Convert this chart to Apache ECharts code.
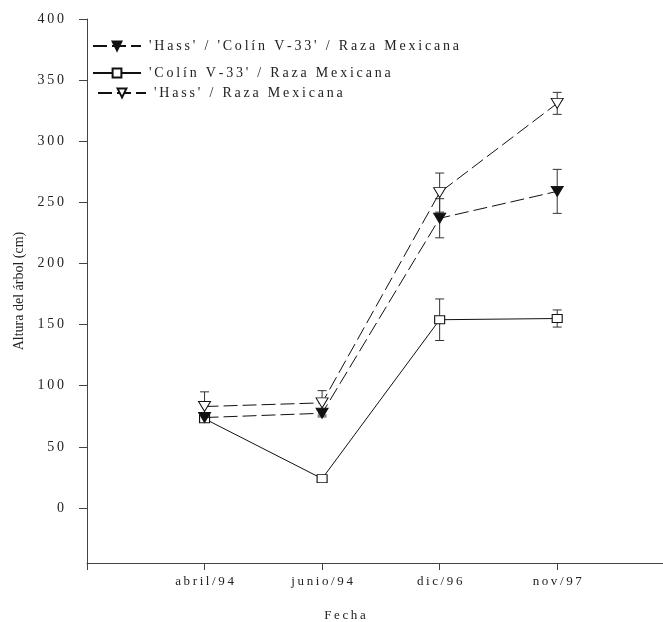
<!DOCTYPE html>
<html>
<head>
<meta charset="utf-8">
<script src="https://cdn.jsdelivr.net/npm/echarts@6/dist/echarts.min.js"></script>
<style>
  html, body { margin: 0; padding: 0; background: #fff; }
  #chart { width: 663px; height: 622px; }
</style>
</head>
<body>
<div id="chart"></div>
<script>
// datos
var fechas = ['abril/94', 'junio/94', 'dic/96', 'nov/97'];
var yTicks = [0, 50, 100, 150, 200, 250, 300, 350, 400];

var nombreHCR = "'Hass' / 'Colín V-33' / Raza Mexicana";
var nombreCR = "'Colín V-33' / Raza Mexicana";
var nombreHR = "'Hass' / Raza Mexicana";

var alturaHCR = [74, 77.5, 237, 259];
var errorHCR = [2, 3, 16, 18];
var alturaCR = [73, 24, 154, 155];
var errorCR = [2, 2, 17, 7];
var alturaHR = [83, 86, 258, 331];
var errorHR = [12, 10, 16, 9];

function sp(s) { return String(s).split('').join('\u2009'); }

function puntos(vals) {
    var out = [];
    for (var i = 0; i < vals.length; i++) out.push([i + 1, vals[i]]);
    return out;
}
function barras(vals, errs) {
    var out = [];
    for (var i = 0; i < vals.length; i++) out.push([i + 1, vals[i] - errs[i], vals[i] + errs[i]]);
    return out;
}

function renderError(params, api) {
    var x = api.value(0);
    var lo = api.coord([x, api.value(1)]);
    var hi = api.coord([x, api.value(2)]);
    var w = 4.5;
    var st = { stroke: '#333', lineWidth: 1 };
    return {
        type: 'group',
        children: [
            { type: 'line', shape: { x1: lo[0], y1: lo[1], x2: hi[0], y2: hi[1] }, style: st },
            { type: 'line', shape: { x1: hi[0] - w, y1: hi[1], x2: hi[0] + w, y2: hi[1] }, style: st },
            { type: 'line', shape: { x1: lo[0] - w, y1: lo[1], x2: lo[0] + w, y2: lo[1] }, style: st }
        ]
    };
}

var serif = 'Liberation Serif';
var chart = echarts.init(document.getElementById('chart'));

function leyenda(nombre, left, top) {
    return {
        data: [nombre],
        left: left,
        top: top,
        itemWidth: 48,
        itemHeight: 11,
        selectedMode: false,
        formatter: function (n) { return sp(n); },
        textStyle: { fontFamily: serif, fontSize: 14, color: '#222', padding: [0, 0, 0, 3] }
    };
}

var dash = [14, 5];

var option = {
    backgroundColor: '#fff',
    animation: false,
    legend: [
        leyenda(nombreHCR, 87, 34),
        leyenda(nombreCR, 87, 61),
        leyenda(nombreHR, 92, 81)
    ],
    grid: { left: 87, right: 0, top: 19, bottom: 59, outerBoundsMode: 'none', containLabel: false },
    xAxis: {
        type: 'value',
        min: 0,
        max: 4.9,
        name: sp('Fecha'),
        nameLocation: 'middle',
        nameGap: 46,
        nameTextStyle: { fontFamily: serif, fontSize: 13, color: '#222', padding: [0, 60, 0, 0] },
        axisLine: { onZero: false, lineStyle: { color: '#444', width: 1 } },
        axisTick: { show: true, inside: false, length: 7, customValues: [0, 1, 2, 3, 4], lineStyle: { color: '#444' } },
        axisLabel: {
            customValues: [1, 2, 3, 4],
            margin: 12,
            fontFamily: serif,
            fontSize: 13,
            color: '#222',
            formatter: function (v) { return sp(fechas[Math.round(v) - 1]); }
        },
        splitLine: { show: false }
    },
    yAxis: {
        type: 'value',
        min: -45,
        max: 400,
        name: 'Altura del árbol (cm)',
        nameLocation: 'middle',
        nameRotate: 90,
        nameGap: 61,
        nameTextStyle: { fontFamily: serif, fontSize: 14, color: '#222' },
        axisLine: { show: true, onZero: false, lineStyle: { color: '#444', width: 1 } },
        axisTick: { show: true, inside: false, length: 8, customValues: yTicks, lineStyle: { color: '#444' } },
        axisLabel: {
            customValues: yTicks,
            margin: 23,
            fontFamily: serif,
            fontSize: 14,
            color: '#222',
            formatter: function (v) { return sp(v); }
        },
        splitLine: { show: false }
    },
    series: [
        { type: 'custom', renderItem: renderError, data: barras(alturaHCR, errorHCR), z: 1, silent: true },
        { type: 'custom', renderItem: renderError, data: barras(alturaCR, errorCR), z: 1, silent: true },
        { type: 'custom', renderItem: renderError, data: barras(alturaHR, errorHR), z: 1, silent: true },
        {
            name: nombreCR,
            type: 'line',
            data: puntos(alturaCR),
            symbol: 'rect',
            symbolSize: [10, 8],
            lineStyle: { color: '#111', width: 1, type: 'solid' },
            itemStyle: { color: '#fff', borderColor: '#111', borderWidth: 1 },
            z: 3
        },
        {
            name: nombreHR,
            type: 'line',
            data: puntos(alturaHR),
            symbol: 'triangle',
            symbolRotate: 180,
            symbolSize: [12, 10],
            lineStyle: { color: '#111', width: 1, type: dash },
            itemStyle: { color: '#fff', borderColor: '#111', borderWidth: 1 },
            z: 4
        },
        {
            name: nombreHCR,
            type: 'line',
            data: puntos(alturaHCR),
            symbol: 'triangle',
            symbolRotate: 180,
            symbolSize: [12, 10],
            lineStyle: { color: '#111', width: 1, type: dash },
            itemStyle: { color: '#111', borderColor: '#111', borderWidth: 1 },
            z: 5
        }
    ]
};

chart.setOption(option);
</script>
</body>
</html>
